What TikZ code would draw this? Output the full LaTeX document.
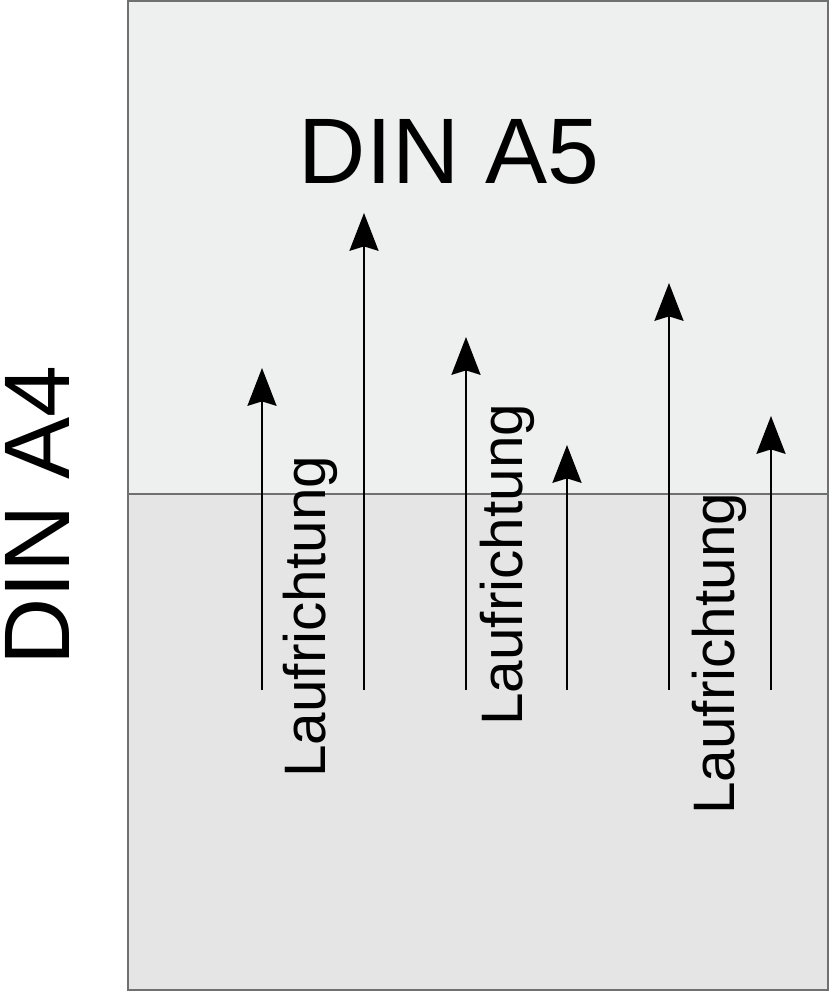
\documentclass[tikz,border=0pt]{standalone}
\usepackage{fontspec}
\setmainfont{Liberation Sans}
\usepackage{tikz}
\usetikzlibrary{arrows.meta}
\definecolor{blatt}{HTML}{EEF0EF}
\definecolor{bogen}{HTML}{E5E5E5}
\definecolor{rand}{HTML}{707070}
\tikzset{
  lauf/.style={draw=black, line width=1.2pt, -{Stealth[length=21.5pt, width=16.5pt, inset=2.5pt]}},
  laufschrift/.style={rotate=90, anchor=base west, inner sep=0pt, font=\fontsize{33.3}{36}\selectfont},
  format/.style={inner sep=0pt, text height=38pt, text depth=0pt, font=\fontsize{53}{60}\selectfont}
}
\begin{document}
\begin{tikzpicture}[x=0.02cm, y=-0.02cm]
            \useasboundingbox (0,0) rectangle (829,992);
            \fill[blatt] (128,1) rectangle (828,494);
            \fill[bogen] (128,494) rectangle (828,990);
            \draw[rand, line width=0.6pt] (128,494) -- (828,494);
            \draw[rand, line width=1.1pt] (128,1) rectangle (828,990);

            \node[format, anchor=base] (a5) at (449,183) {DIN A5};
            \node[format, rotate=90, anchor=base west] (a4) at (70,666) {DIN A4};

            \coordinate (u1) at (262,690); \coordinate (o1) at (262,368);
            \coordinate (u2) at (364,690); \coordinate (o2) at (364,213);
            \coordinate (u3) at (466,690); \coordinate (o3) at (466,337);
            \coordinate (u4) at (567,690); \coordinate (o4) at (567,445);
            \coordinate (u5) at (669,690); \coordinate (o5) at (669,283);
            \coordinate (u6) at (771,690); \coordinate (o6) at (771,416);

            \draw[lauf] (u1) -- (o1);
            \draw[lauf] (u2) -- (o2);
            \draw[lauf] (u3) -- (o3);
            \draw[lauf] (u4) -- (o4);
            \draw[lauf] (u5) -- (o5);
            \draw[lauf] (u6) -- (o6);

            \node[laufschrift] (l1) at (325,778) {Laufrichtung};
            \node[laufschrift] (l2) at (522,726) {Laufrichtung};
            \node[laufschrift] (l3) at (734,815) {Laufrichtung};
\end{tikzpicture}
\end{document}
